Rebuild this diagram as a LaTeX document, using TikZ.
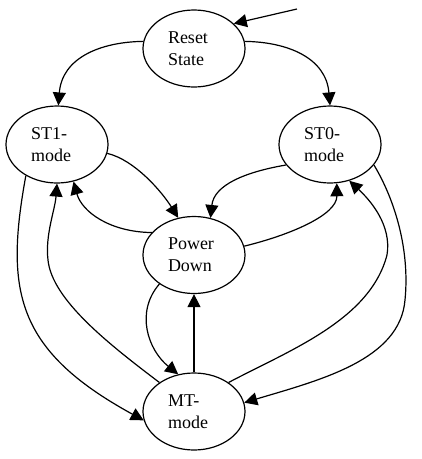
\documentclass[tikz,border=0pt]{standalone}
\usepackage{fontspec}
\setmainfont{Liberation Serif}
\usetikzlibrary{shapes.geometric,arrows.meta}
\tikzset{
  state/.style={draw, ellipse, line width=1.2pt, inner sep=0pt,
    minimum width=102pt, minimum height=77pt,
    text width=52pt, align=left,
    font=\fontsize{18pt}{21.7pt}\selectfont},
  edge/.style={line width=1.2pt, -{Triangle[length=13pt,width=13pt]}}
}
\begin{document}
\begin{tikzpicture}[x=1pt,y=-1pt]
\useasboundingbox (0,0) rectangle (422,459);
\node[state] (reset) at (194,48.5) {Reset\\State};
\node[state] (st1) at (57,144.5) {ST1-\\mode};
\node[state] (st0) at (330,144.5) {ST0-\\mode};
\node[state] (pd) at (194,255) {Power\\Down};
\node[state] (mt) at (194,411.5) {MT-\\mode};
\coordinate (init) at (297,9);

\draw[edge] (init) -- (reset.32);
\draw[edge] (reset.172) .. controls (100,42) and (62,58) .. (st1.88);
\draw[edge] (reset.8) .. controls (288,42) and (326,58) .. (st0.90);
\draw[edge] (st1.-10) .. controls (135,160) and (162,192) .. (pd.113);
\draw[edge] (st0.205) .. controls (245,172) and (214,185) .. (pd.66);
\draw[edge] (pd.152) .. controls (110,232) and (82,212) .. (st1.-66);
\draw[edge] (pd.10) .. controls (290,235) and (337,215) .. (st0.-80);
\draw[edge] (st1.225) .. controls (5,290) and (15,350) .. (mt.190);
\draw[edge] (mt.140) .. controls (110,345) and (52,300) .. (48,260)
  .. controls (45,235) and (55,210) .. (st1.-90);
\draw[edge] (pd.220) .. controls (135,312) and (148,350) .. (mt.113);
\draw[edge] (mt.north) -- (pd.south);
\draw[edge] (mt.40) .. controls (290,350) and (370,320) .. (387,255)
  .. controls (392,225) and (370,200) .. (st0.-62);
\draw[edge] (st0.-25) .. controls (395,200) and (410,250) .. (405,300)
  .. controls (400,360) and (320,380) .. (mt.10);
\end{tikzpicture}
\end{document}
